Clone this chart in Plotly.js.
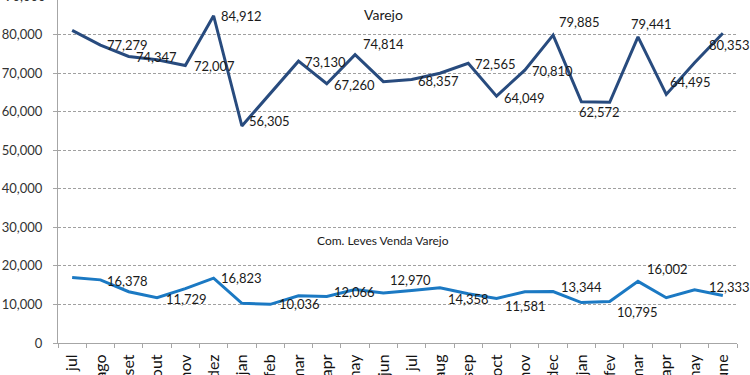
<!DOCTYPE html>
<html>
<head>
<meta charset="utf-8">
<script src="https://cdn.plot.ly/plotly-3.0.1.min.js"></script>
<style>html,body{margin:0;padding:0;background:#fff;}#chart{width:750px;height:375px;}</style>
</head>
<body>
<div id="chart"></div>
<script>
// ---- data ----
const months = ["jul","ago","set","out","nov","dez","jan","feb","mar","apr","may","jun",
                "jul","aug","sep","oct","nov","dec","jan","fev","mar","apr","may","june"];
const varejo = [81100,77279,74347,73500,72007,84912,56305,64700,73130,67260,74814,67800,
                68357,70000,72565,64049,70810,79885,62572,62450,79441,64495,72700,80353];
const comLeves = [17000,16378,13300,11729,14100,16823,10300,10036,12270,12066,13900,12970,
                  13600,14358,12800,11581,13300,13344,10500,10795,16002,11750,13800,12333];
const varejoName = "Varejo";
const comLevesName = "Com. Leves Venda Varejo";
const yTicks = [0,10000,20000,30000,40000,50000,60000,70000,80000,90000];
const yMax = 89000;

// which points carry a value label
const varejoLabeled = [1,2,4,5,6,8,9,10,12,14,15,16,17,18,20,21,23];
const comLevesLabeled = [1,3,5,7,9,11,13,15,17,19,20,23];

// label offsets in pixels (dx right, dy down)
const varejoOff = {1:[27,0],2:[28,1],4:[29,1],5:[28,0],6:[28,-5],8:[27,1],9:[28,1],10:[28,-11],
  12:[27,1],14:[27,1],15:[28,2],16:[28,1],17:[26,-13],18:[18,10],20:[14,-13],21:[24,-12],23:[7,12]};
const comLevesOff = {1:[27,1],3:[29,1],5:[28,0],7:[29,0],9:[28,-5],11:[27,-13],13:[29,11],
  15:[29,8],17:[28,-5],19:[28,11],20:[30,-12],23:[7,-8]};

const idx = months.map((_, i) => i);
const fmt = v => v.toLocaleString('en-US');
const FONT = 'Lato, "Open Sans", sans-serif';

const traces = [
  {x: idx, y: varejo, type: 'scatter', mode: 'lines', name: varejoName,
   line: {color: '#284b7e', width: 3}, hoverinfo: 'y'},
  {x: idx, y: comLeves, type: 'scatter', mode: 'lines', name: comLevesName,
   line: {color: '#1b79c3', width: 3}, hoverinfo: 'y'}
];

const annotations = [];
function addLabels(vals, list, off) {
  list.forEach(i => {
    annotations.push({x: i, y: vals[i], xref: 'x', yref: 'y', text: fmt(vals[i]),
      showarrow: false, xanchor: 'center', yanchor: 'middle',
      xshift: off[i][0], yshift: -off[i][1],
      font: {family: FONT, size: 13, color: '#1a1a1a'}});
  });
}
addLabels(varejo, varejoLabeled, varejoOff);
addLabels(comLeves, comLevesLabeled, comLevesOff);

annotations.push({x: 0.479, y: 0.959, xref: 'paper', yref: 'paper', text: varejoName,
  xanchor: 'center', yanchor: 'middle',
  showarrow: false, font: {family: FONT, size: 14, color: '#1a1a1a'}});
annotations.push({x: 0.479, y: 0.30, xref: 'paper', yref: 'paper', text: comLevesName,
  xanchor: 'center', yanchor: 'middle',
  showarrow: false, font: {family: FONT, size: 12, color: '#1a1a1a'}});
// partially visible top tick label (above the visible plot top)
const topTick = yTicks[yTicks.length - 1];
annotations.push({x: 0, y: topTick / yMax, xref: 'paper', yref: 'paper', text: fmt(topTick),
  showarrow: false, xanchor: 'right', yanchor: 'middle', xshift: -10,
  font: {family: FONT, size: 13, color: '#333'}});

const boundaries = [];
for (let i = 0; i <= months.length; i++) boundaries.push(i - 0.5);

const layout = {
  width: 750, height: 375,
  margin: {l: 58, r: 13, t: 0, b: 32},
  paper_bgcolor: '#fff', plot_bgcolor: '#fff',
  showlegend: false,
  font: {family: FONT, color: '#222'},
  xaxis: {
    type: 'linear', range: [-0.5, months.length - 0.5],
    tickmode: 'array', tickvals: idx, ticktext: months, tickangle: -90,
    ticks: '', showgrid: false, zeroline: false,
    showline: true, linecolor: '#a6a6a6', linewidth: 1,
    tickfont: {family: FONT, size: 16, color: '#111'},
    ticklabelstandoff: 4,
    minor: {tickmode: 'array', tickvals: boundaries, ticks: 'outside', ticklen: 4,
            tickcolor: '#a6a6a6', showgrid: false},
    fixedrange: true
  },
  yaxis: {
    range: [0, yMax], tickmode: 'array', tickvals: yTicks,
    ticktext: yTicks.map(fmt),
    ticks: 'outside', ticklen: 4, tickcolor: '#a6a6a6',
    showline: true, linecolor: '#a6a6a6', linewidth: 1,
    showgrid: true, gridcolor: '#a0a0a0', gridwidth: 1, griddash: '3px,2px',
    zeroline: false,
    tickfont: {family: FONT, size: 13, color: '#333'},
    ticklabelstandoff: 8,
    fixedrange: true
  },
  annotations: annotations
};

Plotly.newPlot('chart', traces, layout, {staticPlot: true, displayModeBar: false});
</script>
</body>
</html>
